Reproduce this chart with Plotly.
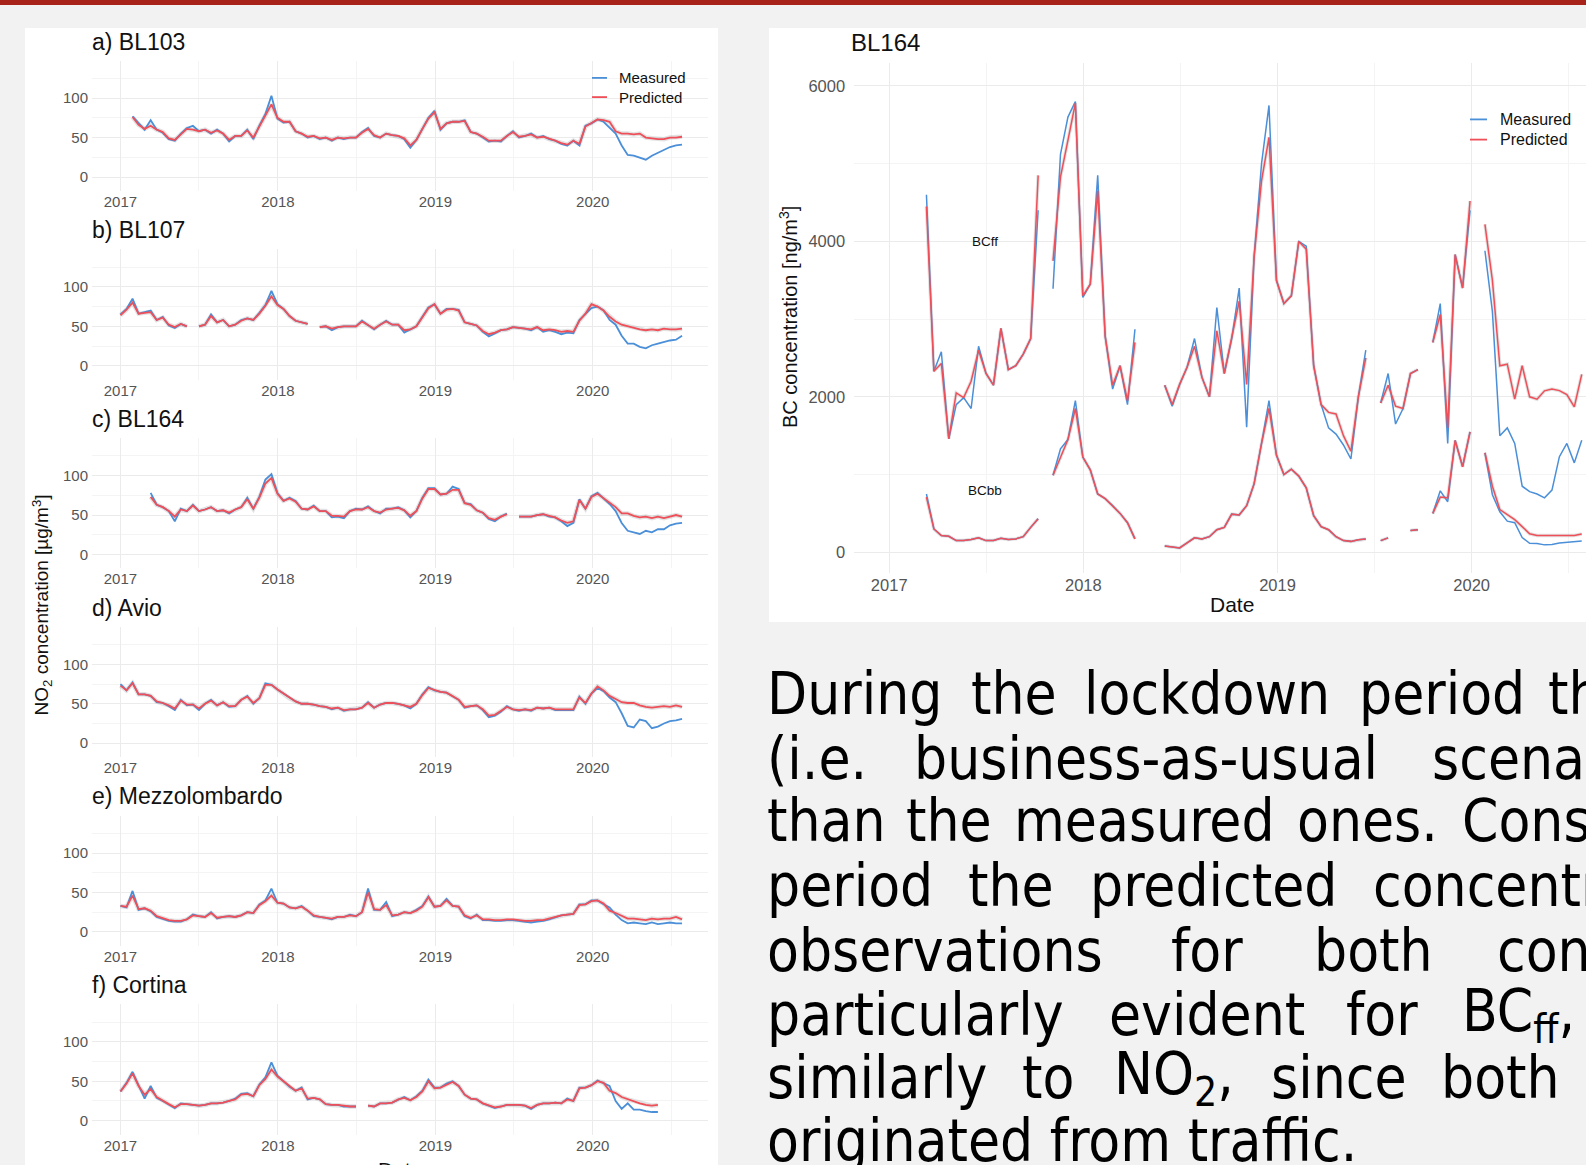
import plotly.graph_objects as go
import pandas as pd

W, H = 1586, 1165
N = None

# ---------------- data ----------------
dates = pd.date_range("2017-01-01", periods=94, freq="14D")

bl103_meas = [N, N, 77, 68, 60, 72, 60, 56, 48, 46,
              55, 62, 65, 58, 60, 55, 60, 55, 45, 52,
              52, 60, 48, 65, 80, 103, 74, 69, 70, 58,
              55, 50, 52, 48, 50, 46, 50, 48, 50, 50,
              57, 62, 52, 50, 55, 53, 52, 48, 37, 47,
              62, 75, 84, 60, 68, 70, 70, 72, 57, 55,
              50, 45, 46, 45, 52, 58, 50, 52, 55, 50,
              52, 48, 46, 42, 40, 46, 40, 65, 68, 73,
              70, 62, 55, 40, 28, 27, 24, 22, 27, 31,
              34, 38, 40, 41]
bl103_pred = [N, N, 76, 66, 61, 65, 60, 57, 49, 47,
              54, 61, 60, 58, 60, 56, 59, 55, 47, 52,
              52, 59, 50, 64, 78, 92, 75, 70, 70, 58,
              55, 51, 52, 49, 50, 47, 50, 49, 50, 50,
              56, 61, 53, 50, 55, 53, 52, 49, 40, 47,
              61, 74, 82, 61, 68, 70, 70, 71, 57, 55,
              51, 46, 46, 46, 52, 57, 51, 52, 54, 50,
              51, 48, 46, 43, 41, 46, 42, 64, 68, 73,
              72, 70, 58, 55, 55, 54, 55, 50, 49, 48,
              48, 50, 50, 51]

bl107_meas = [65, 72, 85, 66, 68, 70, 58, 62, 51, 48,
              53, 50, N, 50, 52, 65, 55, 58, 50, 52,
              58, 60, 58, 67, 77, 95, 78, 72, 63, 57,
              55, 53, N, 49, 50, 45, 49, 50, 50, 50,
              57, 52, 46, 52, 57, 52, 52, 42, 46, 50,
              62, 74, 78, 66, 72, 72, 71, 55, 53, 51,
              43, 37, 41, 45, 46, 49, 48, 47, 45, 49,
              43, 45, 43, 40, 42, 41, 58, 66, 73, 75,
              70, 58, 52, 38, 28, 28, 24, 22, 26, 28,
              30, 32, 33, 38]
bl107_pred = [64, 71, 80, 66, 67, 68, 58, 61, 52, 49,
              53, 50, N, 50, 52, 63, 55, 58, 50, 52,
              57, 60, 58, 66, 76, 88, 77, 72, 63, 57,
              55, 53, N, 49, 50, 47, 49, 50, 50, 50,
              56, 52, 47, 52, 56, 52, 52, 45, 46, 50,
              61, 73, 78, 66, 71, 72, 70, 55, 53, 51,
              44, 40, 42, 45, 46, 49, 48, 47, 46, 49,
              45, 46, 45, 43, 44, 43, 57, 66, 78, 75,
              70, 62, 56, 52, 50, 48, 46, 45, 46, 45,
              47, 46, 46, 47]

bl164_meas = [N, N, N, N, N, 78, 63, 60, 55, 42,
              58, 55, 63, 55, 57, 60, 55, 56, 52, 57,
              60, 72, 58, 73, 95, 102, 78, 68, 72, 68,
              58, 57, 62, 55, 55, 47, 48, 46, 55, 58,
              57, 61, 55, 52, 58, 58, 60, 56, 47, 55,
              72, 84, 84, 76, 77, 86, 83, 65, 64, 56,
              53, 45, 42, 48, 52, N, 48, 48, 48, 50,
              51, 48, 47, 42, 36, 40, 70, 58, 74, 78,
              71, 64, 55, 40, 30, 28, 26, 30, 28, 32,
              32, 37, 39, 40]
bl164_pred = [N, N, N, N, N, 73, 63, 60, 55, 48,
              57, 55, 62, 55, 57, 60, 55, 56, 53, 57,
              60, 70, 58, 72, 90, 97, 77, 68, 71, 67,
              58, 57, 61, 55, 55, 49, 49, 48, 55, 57,
              57, 60, 55, 53, 57, 58, 59, 56, 49, 55,
              71, 83, 83, 76, 77, 82, 82, 65, 63, 56,
              53, 46, 44, 48, 51, N, 48, 48, 48, 50,
              51, 49, 47, 43, 40, 42, 69, 58, 73, 77,
              71, 66, 60, 52, 52, 49, 47, 48, 46, 48,
              46, 48, 50, 48]

avio_meas = [75, 67, 77, 62, 62, 60, 52, 51, 47, 42,
             55, 48, 49, 42, 50, 55, 48, 52, 46, 47,
             55, 60, 50, 57, 76, 74, 68, 63, 57, 53,
             50, 50, 49, 47, 46, 43, 45, 41, 43, 43,
             45, 52, 45, 49, 51, 51, 50, 48, 44, 50,
             62, 71, 67, 65, 64, 60, 55, 45, 47, 48,
             42, 33, 35, 40, 47, 43, 41, 43, 41, 45,
             44, 45, 42, 42, 42, 42, 59, 50, 63, 70,
             66, 58, 52, 38, 22, 20, 30, 28, 19, 21,
             25, 28, 29, 31]
avio_pred = [73, 67, 76, 62, 62, 60, 53, 51, 48, 44,
             54, 49, 49, 44, 50, 54, 48, 52, 47, 47,
             55, 59, 51, 57, 74, 74, 68, 63, 57, 53,
             50, 50, 49, 47, 46, 44, 45, 42, 43, 43,
             45, 51, 45, 49, 51, 51, 50, 48, 46, 50,
             61, 70, 67, 65, 64, 60, 55, 46, 47, 48,
             43, 35, 36, 41, 46, 43, 42, 43, 42, 45,
             44, 45, 43, 43, 43, 43, 58, 51, 63, 72,
             67, 60, 56, 52, 51, 51, 48, 46, 45, 46,
             47, 46, 48, 46]

mezzo_meas = [33, 31, 52, 28, 30, 26, 19, 16, 14, 13,
              13, 16, 22, 20, 19, 25, 17, 19, 20, 19,
              21, 25, 24, 35, 40, 55, 37, 36, 31, 30,
              33, 27, 20, 19, 18, 16, 19, 19, 22, 20,
              25, 55, 28, 28, 38, 20, 22, 25, 24, 28,
              33, 45, 32, 33, 42, 33, 32, 20, 17, 22,
              15, 15, 14, 14, 15, 15, 14, 13, 12, 13,
              14, 16, 19, 21, 22, 23, 35, 35, 40, 40,
              35, 31, 22, 15, 11, 12, 11, 10, 12, 10,
              11, 12, 11, 11]
mezzo_pred = [33, 32, 46, 29, 30, 27, 20, 17, 15, 14,
              14, 16, 21, 20, 19, 24, 18, 19, 20, 19,
              21, 25, 24, 34, 39, 46, 37, 36, 31, 30,
              32, 27, 21, 19, 18, 17, 19, 19, 21, 20,
              25, 50, 29, 28, 34, 21, 22, 25, 24, 27,
              32, 44, 32, 33, 40, 33, 32, 21, 18, 21,
              16, 16, 15, 15, 16, 16, 15, 14, 14, 15,
              15, 17, 19, 21, 22, 23, 34, 35, 39, 40,
              36, 27, 24, 20, 17, 17, 16, 15, 17, 16,
              17, 17, 19, 16]

cortina_meas = [37, 48, 62, 44, 28, 44, 29, 25, 21, 16,
                22, 21, 20, 19, 20, 22, 22, 23, 25, 28,
                34, 35, 31, 46, 55, 74, 57, 50, 43, 38,
                42, 27, 29, 27, 21, 20, 20, 18, 18, 18,
                N, 19, 18, 22, 22, 23, 27, 30, 26, 31,
                38, 52, 42, 42, 47, 50, 44, 33, 28, 27,
                22, 19, 16, 18, 20, 20, 20, 19, 15, 20,
                22, 22, 23, 22, 28, 25, 42, 42, 45, 51,
                48, 44, 25, 15, 22, 14, 14, 12, 11, 11,
                N, N, N, N]
cortina_pred = [37, 47, 60, 44, 33, 40, 30, 25, 21, 17,
                21, 21, 20, 19, 20, 22, 22, 23, 25, 27,
                33, 34, 31, 45, 53, 65, 56, 50, 43, 38,
                41, 28, 29, 27, 21, 20, 20, 19, 18, 18,
                N, 19, 18, 22, 22, 23, 27, 29, 26, 30,
                37, 50, 41, 42, 46, 49, 44, 33, 28, 27,
                22, 19, 17, 18, 20, 20, 20, 19, 16, 20,
                22, 22, 23, 22, 27, 25, 41, 42, 45, 50,
                48, 38, 35, 30, 27, 25, 22, 20, 19, 20,
                N, N, N, N]

bcff_meas = [N, N, N, N, N, 4600, 2330, 2580, 1460, 1900,
             1990, 1850, 2650, 2300, 2150, 2880, 2350, 2400, 2550, 2750,
             4400, N, 3390, 5120, 5600, 5800, 3280, 3450, 4850, 2780,
             2100, 2400, 1900, 2870, N, N, N, 2150, 1880, 2160,
             2380, 2750, 2250, 2000, 3150, 2300, 2750, 3400, 1610, 3800,
             5000, 5750, 3500, 3200, 3300, 4000, 3940, 2400, 1900, 1600,
             1520, 1380, 1200, 2000, 2600, N, 1920, 2300, 1650, 1850,
             2300, 2350, N, 2700, 3200, 1400, 3830, 3400, 4400, N,
             3880, 3100, 1500, 1600, 1400, 850, 780, 750, 700, 800,
             1230, 1400, 1150, 1440]
bcff_pred = [N, N, N, N, N, 4450, 2330, 2430, 1460, 2050,
             1990, 2200, 2600, 2300, 2150, 2880, 2350, 2400, 2550, 2750,
             4850, N, 3750, 4830, 5300, 5780, 3300, 3450, 4650, 2780,
             2150, 2400, 1950, 2700, N, N, N, 2150, 1900, 2160,
             2380, 2650, 2250, 2000, 2850, 2300, 2750, 3230, 2160, 3800,
             4780, 5340, 3500, 3200, 3300, 4000, 3900, 2400, 1900, 1800,
             1780, 1500, 1300, 2000, 2500, N, 1920, 2150, 1880, 1850,
             2300, 2350, N, 2700, 3060, 1600, 3830, 3400, 4520, N,
             4220, 3500, 2400, 2420, 1970, 2400, 2000, 1970, 2077, 2100,
             2080, 2030, 1870, 2290]

bcbb_meas = [N, N, N, N, N, 750, 300, 215, 205, 150,
             150, 165, 185, 150, 152, 180, 165, 172, 200, 320,
             430, N, 990, 1330, 1450, 1950, 1225, 1060, 750, 690,
             600, 500, 380, 172, N, N, N, 80, 70, 55,
             120, 185, 170, 200, 290, 320, 490, 480, 600, 880,
             1400, 1950, 1250, 1000, 1070, 980, 830, 470, 330, 290,
             200, 150, 140, 160, 170, N, 150, 185, N, N,
             280, 290, N, 500, 790, 650, 1440, 1100, 1550, N,
             1280, 740, 520, 400, 380, 190, 116, 112, 95, 100,
             120, 129, 129, 145]
bcbb_pred = [N, N, N, N, N, 710, 300, 215, 205, 150,
             150, 165, 185, 150, 152, 180, 165, 172, 200, 320,
             430, N, 990, 1225, 1450, 1850, 1225, 1060, 750, 690,
             600, 500, 380, 172, N, N, N, 80, 70, 55,
             120, 185, 170, 200, 290, 320, 490, 480, 600, 880,
             1400, 1850, 1250, 1000, 1070, 980, 830, 470, 330, 290,
             200, 150, 140, 160, 170, N, 150, 185, N, N,
             280, 290, N, 500, 710, 700, 1440, 1100, 1550, N,
             1280, 850, 550, 480, 420, 330, 237, 215, 215, 215,
             208, 210, 215, 235]

no2_titles = ["a) BL103", "b) BL107", "c) BL164", "d) Avio", "e) Mezzolombardo", "f) Cortina"]
no2_meas = [bl103_meas, bl107_meas, bl164_meas, avio_meas, mezzo_meas, cortina_meas]
no2_pred = [bl103_pred, bl107_pred, bl164_pred, avio_pred, mezzo_pred, cortina_pred]
no2_ticks = [0, 50, 100]
bc_ticks = [0, 2000, 4000, 6000]
legend_labels = ["Measured", "Predicted"]

paragraph = [
    ["During", "the", "lockdown", "period", "th"],
    ["(i.e.", "business-as-usual", "scena"],
    ["than", "the", "measured", "ones.", "Cons"],
    ["period", "the", "predicted", "concentr"],
    ["observations", "for", "both", "con"],
    ["particularly", "evident", "for", "BC<sub>ff</sub>,"],
    ["similarly", "to", "NO<sub>2</sub>,", "since", "both"],
    ["originated from traffic."],
]

# ---------------- styling / layout ----------------
MEAS = "#4a8fd8"
PRED = "#ef4f58"
HALO = "rgba(150,150,150,0.28)"
GRID = "#ebebeb"
MINOR = "#f4f4f4"
TICK = "#555555"
FONT = "Liberation Sans, Arial, sans-serif"
TXTFONT = "DejaVu Sans Condensed, DejaVu Sans, sans-serif"


def fx(px):
    return px / W


def fy(py):
    return 1 - py / H


fig = go.Figure()
layout = {}
ann = []
shapes = []

# background panels
shapes.append(dict(type="rect", xref="paper", yref="paper", x0=0, x1=1, y0=fy(5), y1=1,
                   fillcolor="#a8241b", line=dict(width=0), layer="below"))
shapes.append(dict(type="rect", xref="paper", yref="paper", x0=fx(25), x1=fx(718), y0=0, y1=fy(28),
                   fillcolor="white", line=dict(width=0), layer="below"))
shapes.append(dict(type="rect", xref="paper", yref="paper", x0=fx(769), x1=1, y0=fy(622), y1=fy(28),
                   fillcolor="white", line=dict(width=0), layer="below"))


def xaxis_cfg(domain, anchor, rng, fs):
    return dict(domain=domain, anchor=anchor, type="date", range=rng,
                tick0="2017-01-01", dtick="M12", tickformat="%Y",
                showgrid=True, gridcolor=GRID, gridwidth=1.2,
                minor=dict(tick0="2017-07-02", dtick="M12", showgrid=True, gridcolor=MINOR, gridwidth=0.9),
                zeroline=False, showline=False, ticks="",
                tickfont=dict(family=FONT, size=fs, color=TICK), fixedrange=True)


def yaxis_cfg(domain, anchor, rng, tickvals, minorvals, fs, standoff):
    return dict(domain=domain, anchor=anchor, range=rng, tickvals=tickvals,
                showgrid=True, gridcolor=GRID, gridwidth=1.2,
                minor=dict(tickvals=minorvals, showgrid=True, gridcolor=MINOR, gridwidth=0.9),
                zeroline=False, showline=False, ticks="", ticklabelstandoff=standoff,
                tickfont=dict(family=FONT, size=fs, color=TICK), fixedrange=True)


for k in range(6):
    n = k + 1
    xa = "x" if n == 1 else f"x{n}"
    ya = "y" if n == 1 else f"y{n}"
    fig.add_trace(go.Scatter(x=dates, y=no2_pred[k], mode="lines", hoverinfo="skip",
                             line=dict(color=HALO, width=4.5), xaxis=xa, yaxis=ya, showlegend=False))
    fig.add_trace(go.Scatter(x=dates, y=no2_meas[k], mode="lines", name=legend_labels[0],
                             line=dict(color=MEAS, width=1.8), xaxis=xa, yaxis=ya, showlegend=False))
    fig.add_trace(go.Scatter(x=dates, y=no2_pred[k], mode="lines", name=legend_labels[1],
                             line=dict(color=PRED, width=1.8), xaxis=xa, yaxis=ya, showlegend=False))
    zero = 177.0 + 188.74 * k
    top = zero - 147.5 * 0.789
    bot = zero + 17.5 * 0.789
    layout["xaxis" if n == 1 else f"xaxis{n}"] = xaxis_cfg([fx(92), fx(707.5)], ya,
                                                           ["2016-10-27", "2020-09-23"], 15)
    layout["yaxis" if n == 1 else f"yaxis{n}"] = yaxis_cfg([fy(bot), fy(top)], xa, [-17.5, 147.5],
                                                           no2_ticks, [25, 75, 125], 15, 3)
    ann.append(dict(text=no2_titles[k], xref="paper", yref="paper", x=fx(90), y=fy(zero - 135.5),
                    xanchor="left", yanchor="middle", showarrow=False,
                    font=dict(family=FONT, size=23, color="#111111")))

# BC panel
for ser in (bcff_pred, bcbb_pred):
    fig.add_trace(go.Scatter(x=dates, y=ser, mode="lines", hoverinfo="skip",
                             line=dict(color=HALO, width=3.5), xaxis="x7", yaxis="y7", showlegend=False))
for ser in (bcff_meas, bcbb_meas):
    fig.add_trace(go.Scatter(x=dates, y=ser, mode="lines", name=legend_labels[0],
                             line=dict(color=MEAS, width=1.5), xaxis="x7", yaxis="y7", showlegend=False))
for ser in (bcff_pred, bcbb_pred):
    fig.add_trace(go.Scatter(x=dates, y=ser, mode="lines", name=legend_labels[1],
                             line=dict(color=PRED, width=1.5), xaxis="x7", yaxis="y7", showlegend=False))
layout["xaxis7"] = xaxis_cfg([fx(854.1), 1.0], "y7", ["2016-10-27", "2020-08-03"], 16.5)
layout["yaxis7"] = yaxis_cfg([fy(573), fy(63.3)], "x7", [-267, 6292], bc_ticks, [1000, 3000, 5000], 16.5, 8)

ann.append(dict(text="BL164", xref="paper", yref="paper", x=fx(849.5), y=fy(42.5),
                xanchor="left", yanchor="middle", showarrow=False,
                font=dict(family=FONT, size=24, color="#111111")))
ann.append(dict(text="BCff", xref="x7", yref="y7", x="2017-07-01", y=4000, showarrow=False,
                xanchor="center", yanchor="middle", font=dict(family=FONT, size=13.5, color="#111111")))
ann.append(dict(text="BCbb", xref="x7", yref="y7", x="2017-07-01", y=800, showarrow=False,
                xanchor="center", yanchor="middle", font=dict(family=FONT, size=13.5, color="#111111")))
ann.append(dict(text="Date", xref="paper", yref="paper", x=fx(1232), y=fy(605), showarrow=False,
                xanchor="center", yanchor="middle", font=dict(family=FONT, size=21, color="#111111")))
ann.append(dict(text="BC concentration [ng/m<sup>3</sup>]", xref="paper", yref="paper", x=fx(788),
                y=fy(317), showarrow=False, textangle=-90, xanchor="center", yanchor="middle",
                font=dict(family=FONT, size=20, color="#111111")))
ann.append(dict(text="NO<sub>2</sub> concentration [µg/m<sup>3</sup>]", xref="paper", yref="paper",
                x=fx(42.5), y=fy(605), showarrow=False, textangle=-90, xanchor="center", yanchor="middle",
                font=dict(family=FONT, size=19, color="#111111")))
ann.append(dict(text="Date", xref="paper", yref="paper", x=fx(400), y=fy(1156), showarrow=False,
                xanchor="center", yanchor="top", font=dict(family=FONT, size=21, color="#111111")))

# legends (keys + labels)
for (kx0, kx1, tx, ys, fs) in [(592, 607, 617, (77.9, 97.1), 15), (1470, 1487, 1498, (119.4, 139.6), 16)]:
    for lab, col, yy in zip(legend_labels, [MEAS, PRED], ys):
        shapes.append(dict(type="line", xref="paper", yref="paper", x0=fx(kx0), x1=fx(kx1),
                           y0=fy(yy), y1=fy(yy), line=dict(color=col, width=1.8)))
        ann.append(dict(text=lab, xref="paper", yref="paper", x=fx(tx), y=fy(yy), showarrow=False,
                        xanchor="left", yanchor="middle", font=dict(family=FONT, size=fs, color="#111111")))

# paragraph (justified, word by word)
line_y = [693.9, 758.6, 821.3, 886.1, 950.8, 1014.5, 1078.3, 1141.0]
word_x = [
    [765, 969, 1082, 1357, 1546],
    [765, 912, 1430],
    [765, 904, 1012, 1295, 1460],
    [765, 966, 1088, 1371],
    [765, 1169, 1312, 1495],
    [765, 1107, 1344, 1460],
    [765, 1020, 1112, 1269, 1439],
    [765],
]
for words, xs, yy in zip(paragraph, word_x, line_y):
    for w, xx in zip(words, xs):
        ann.append(dict(text=w, xref="paper", yref="paper", x=fx(xx), y=fy(yy), showarrow=False,
                        xanchor="left", yanchor="middle",
                        font=dict(family=TXTFONT, size=58, color="#000000")))

fig.update_layout(width=W, height=H, margin=dict(l=0, r=0, t=0, b=0),
                  paper_bgcolor="#f2f2f2", plot_bgcolor="rgba(0,0,0,0)",
                  showlegend=False, shapes=shapes, annotations=ann, **layout)

fig.write_html("out.html")
